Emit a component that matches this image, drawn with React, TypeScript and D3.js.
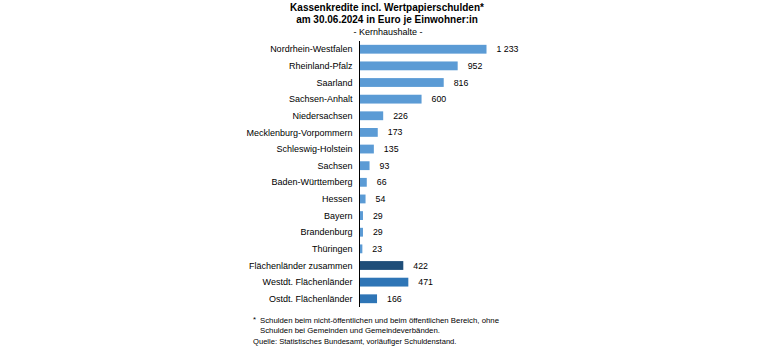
import * as d3 from "d3";
import { useEffect, useRef } from "react";

const categories = [
  "Nordrhein-Westfalen",
  "Rheinland-Pfalz",
  "Saarland",
  "Sachsen-Anhalt",
  "Niedersachsen",
  "Mecklenburg-Vorpommern",
  "Schleswig-Holstein",
  "Sachsen",
  "Baden-Württemberg",
  "Hessen",
  "Bayern",
  "Brandenburg",
  "Thüringen",
  "Flächenländer zusammen",
  "Westdt. Flächenländer",
  "Ostdt. Flächenländer",
];
const values = [1233, 952, 816, 600, 226, 173, 135, 93, 66, 54, 29, 29, 23, 422, 471, 166];
// 0 = Länder, 1 = zusammen, 2 = West/Ost
const groups = [0, 0, 0, 0, 0, 0, 0, 0, 0, 0, 0, 0, 0, 1, 2, 2];
const colors = ["#5b9bd5", "#1f4e79", "#2e75b6"];

const titleLines = [
  "Kassenkredite incl. Wertpapierschulden*",
  "am 30.06.2024 in Euro je Einwohner:in",
];
const subtitle = "- Kernhaushalte -";
const notes = [
  "Schulden beim nicht-öffentlichen und beim öffentlichen Bereich, ohne",
  "Schulden bei Gemeinden und Gemeindeverbänden.",
];
const source = "Quelle: Statistisches Bundesamt, vorläufiger Schuldenstand.";

const fmt = (v: number) => d3.format(",")(v).replace(/,/g, " ");

export default function App() {
  const ref = useRef<SVGSVGElement | null>(null);

  useEffect(() => {
    if (!ref.current) return;
    const svg = d3.select(ref.current);
    svg.selectAll("*").remove();

    const font = "'Liberation Sans', Arial, sans-serif";
    const x0 = 360;

    const x = d3.scaleLinear().domain([0, 1233]).range([0, 126.5]);
    const y = d3
      .scaleBand<string>()
      .domain(categories)
      .range([41, 307])
      .paddingInner(0.47)
      .paddingOuter(0.23);

    // Title
    svg
      .selectAll("text.title")
      .data(titleLines)
      .enter()
      .append("text")
      .attr("class", "title")
      .attr("x", 387)
      .attr("y", (_, i) => 10.5 + i * 12.5)
      .attr("text-anchor", "middle")
      .attr("fill", "#000")
      .style("font-family", font)
      .style("font-size", "10px")
      .style("font-weight", "bold")
      .text((d) => d);

    svg
      .append("text")
      .attr("x", 388)
      .attr("y", 34.5)
      .attr("text-anchor", "middle")
      .attr("fill", "#000")
      .style("font-family", font)
      .style("font-size", "9px")
      .text(subtitle);

    // Bars
    svg
      .selectAll("rect")
      .data(categories)
      .enter()
      .append("rect")
      .attr("x", x0)
      .attr("y", (d) => y(d)!)
      .attr("width", (_, i) => x(values[i]))
      .attr("height", y.bandwidth())
      .attr("fill", (_, i) => colors[groups[i]]);

    // Axis line
    svg
      .append("line")
      .attr("x1", x0 - 0.5)
      .attr("x2", x0 - 0.5)
      .attr("y1", 41)
      .attr("y2", 307)
      .attr("stroke", "#000")
      .attr("stroke-width", 1);

    // Category labels
    svg
      .selectAll("text.cat")
      .data(categories)
      .enter()
      .append("text")
      .attr("class", "cat")
      .attr("x", x0 - 7.5)
      .attr("y", (d) => y(d)! + y.bandwidth() / 2)
      .attr("dy", "0.35em")
      .attr("text-anchor", "end")
      .attr("fill", "#000")
      .style("font-family", font)
      .style("font-size", "9px")
      .text((d) => d);

    // Value labels
    svg
      .selectAll("text.val")
      .data(categories)
      .enter()
      .append("text")
      .attr("class", "val")
      .attr("x", (_, i) => x0 + x(values[i]) + 10)
      .attr("y", (d) => y(d)! + y.bandwidth() / 2)
      .attr("dy", "0.35em")
      .attr("fill", "#000")
      .style("font-family", font)
      .style("font-size", "8.8px")
      .text((_, i) => fmt(values[i]));

    // Footnotes
    svg
      .append("text")
      .attr("x", 253)
      .attr("y", 322)
      .attr("fill", "#000")
      .style("font-family", font)
      .style("font-size", "7.8px")
      .text("*");

    svg
      .selectAll("text.note")
      .data(notes)
      .enter()
      .append("text")
      .attr("class", "note")
      .attr("x", 260)
      .attr("y", (_, i) => 322.5 + i * 10)
      .attr("fill", "#000")
      .style("font-family", font)
      .style("font-size", "7.8px")
      .text((d) => d);

    svg
      .append("text")
      .attr("class", "source")
      .attr("x", 253)
      .attr("y", 344)
      .attr("fill", "#000")
      .style("font-family", font)
      .style("font-size", "7.6px")
      .text(source);
  }, []);

  return (
    <svg
      ref={ref}
      width={780}
      height={350}
      style={{ position: "absolute", left: 0, top: 0, background: "#fff" }}
    ></svg>
  );
}
